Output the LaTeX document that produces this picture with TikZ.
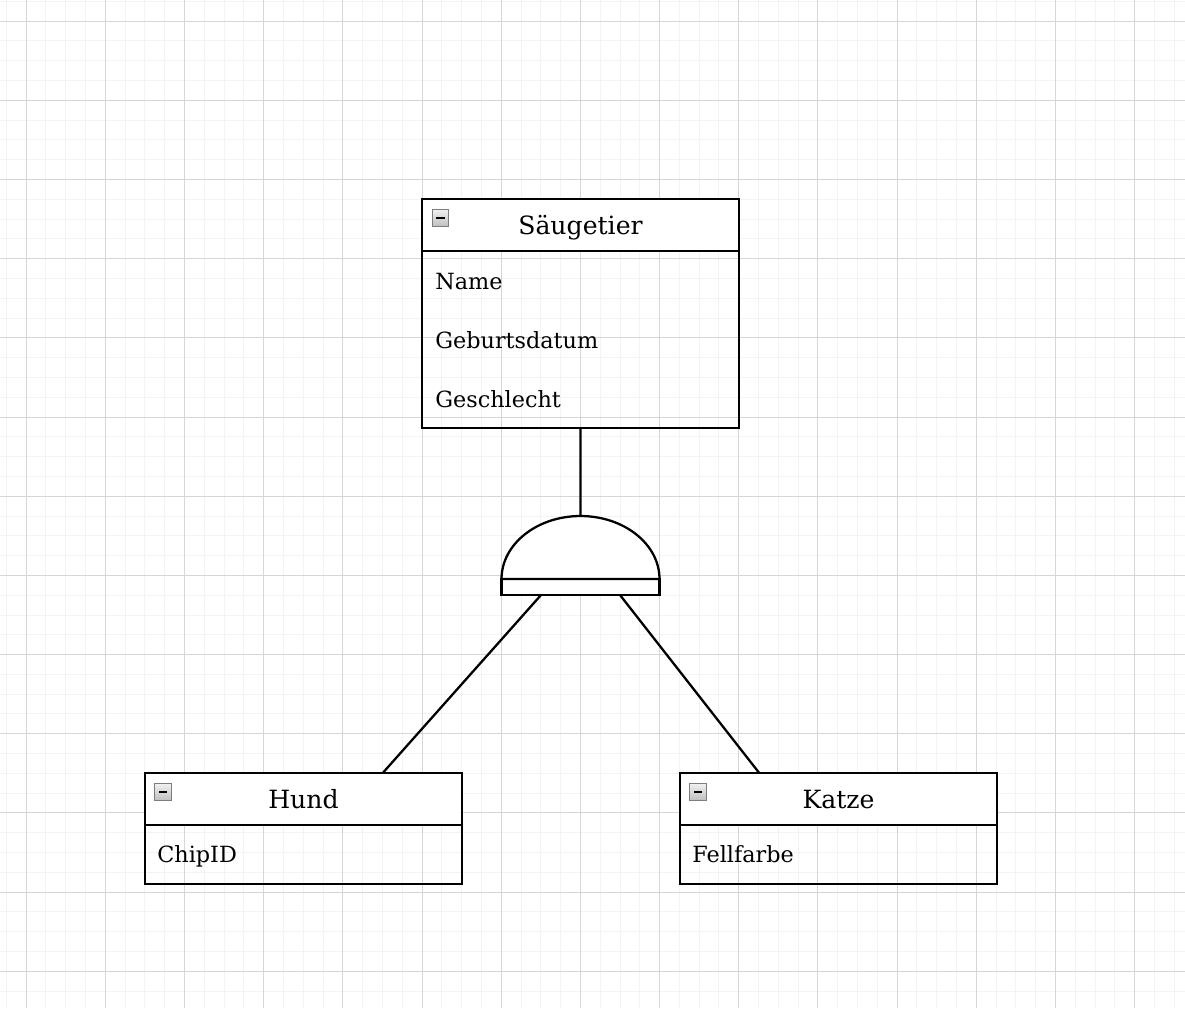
\documentclass[tikz,border=0pt]{standalone}
\usepackage{fontspec}
\setmainfont{DejaVu Serif}
\usetikzlibrary{positioning,calc}

\definecolor{gridminor}{RGB}{243,243,243}
\definecolor{gridmajor}{RGB}{214,214,214}
\definecolor{iconedge}{RGB}{125,125,125}

\tikzset{
  classhead/.style={draw,line width=1.3pt,fill=white,minimum width=6.34cm,minimum height=1.04cm,inner sep=0pt,outer sep=0pt,
    text height=1.05em,text depth=0pt,font=\fontsize{14.3}{17}\selectfont},
  classbody/.style={draw,line width=1.3pt,minimum width=6.34cm,inner sep=0pt,outer sep=0pt},
  attr/.style={anchor=base west,inner sep=0pt,font=\fontsize{12.7}{15}\selectfont},
  minusicon/.style={draw=iconedge,line width=0.5pt,top color=gray!12,bottom color=gray!50,
    minimum size=0.33cm,inner sep=0pt},
  link/.style={line width=1.3pt}
}

\begin{document}
\begin{tikzpicture}[x=0.02cm,y=-0.02cm]
      \useasboundingbox (0,0) rectangle (1185,1008);
      \fill[white] (0,0) rectangle (1185,1008);
      \foreach \i in {0,...,59} \draw[gridminor,line width=0.5pt] ({6.3+19.795*\i},0) -- ++(0,1008);
      \foreach \i in {0,...,50} \draw[gridminor,line width=0.5pt] (0,{1.3+19.795*\i}) -- ++(1185,0);
      \foreach \i in {0,...,14} \draw[gridmajor,line width=0.5pt] ({26.1+79.18*\i},0) -- ++(0,1008);
      \foreach \i in {0,...,12} \draw[gridmajor,line width=0.5pt] (0,{21.1+79.18*\i}) -- ++(1185,0);

      \node[classhead,anchor=north west] (saeughead) at (422,199) {Säugetier};
      \node[classbody,minimum height=3.54cm,below=0pt of saeughead] (saeugbody) {};
      \node[minusicon] (saeugicon) at (440.5,218) {\rule{0.17cm}{1.3pt}};
      \node[attr] (name) at (435,289) {Name};
      \node[attr] (geburt) at (435,348) {Geburtsdatum};
      \node[attr] (geschl) at (435,407) {Geschlecht};

      \node[classhead,anchor=north west] (hundhead) at (145,773) {Hund};
      \node[classbody,minimum height=1.18cm,below=0pt of hundhead] (hundbody) {};
      \node[minusicon] (hundicon) at (163,792) {\rule{0.17cm}{1.3pt}};
      \node[attr] (chip) at (157,862) {ChipID};

      \node[classhead,anchor=north west] (katzehead) at (680,773) {Katze};
      \node[classbody,minimum height=1.18cm,below=0pt of katzehead] (katzebody) {};
      \node[minusicon] (katzeicon) at (698,792) {\rule{0.17cm}{1.3pt}};
      \node[attr] (fell) at (692,862) {Fellfarbe};

      \node[draw,line width=1.3pt,fill=white,minimum width=3.16cm,minimum height=0.32cm,inner sep=0pt,outer sep=0pt] (gate) at (580.5,587) {};
      \draw[line width=1.3pt,fill=white] (gate.north west) arc[start angle=180,end angle=0,x radius=1.58cm,y radius=1.26cm] -- cycle;
      \coordinate (gatetop) at (580.5,516);

      \draw[link] (saeugbody.south) -- (gatetop);
      \draw[link] ($(gate.south west)!0.25!(gate.south east)$) -- ($(hundhead.north west)!0.75!(hundhead.north east)$);
      \draw[link] ($(gate.south west)!0.75!(gate.south east)$) -- ($(katzehead.north west)!0.25!(katzehead.north east)$);
\end{tikzpicture}
\end{document}
